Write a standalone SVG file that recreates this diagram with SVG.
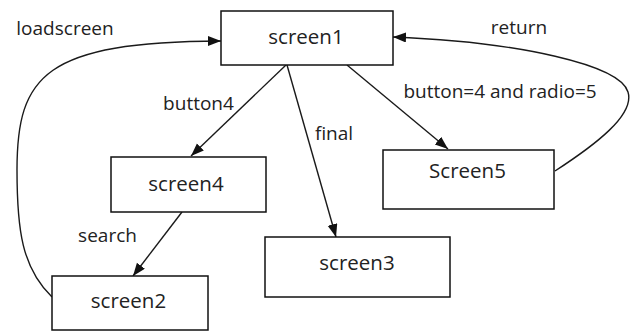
<svg xmlns="http://www.w3.org/2000/svg" width="630" height="333" viewBox="0 0 630 333">
<style>
.node rect{fill:#fff;stroke:#111;stroke-width:1.5}
.node text{font-family:"Open Sans","Noto Sans",sans-serif;font-size:20.5px;fill:#222;text-anchor:middle}
.lbl{font-family:"Open Sans","Noto Sans",sans-serif;font-size:19px;fill:#222;text-anchor:middle}
.edge{fill:none;stroke:#1a1a1a;stroke-width:1.4;marker-end:url(#arr)}
</style>
<defs>
<marker id="arr" markerUnits="userSpaceOnUse" markerWidth="14" markerHeight="11" refX="13" refY="5" orient="auto">
<path d="M0,0 L13,5 L0,10 z" fill="#111"/>
</marker>
</defs>
<rect width="630" height="333" fill="#fff"/>
<g id="connectors">
<path class="edge" d="M286,65 L191,156"/>
<path class="edge" d="M287,65 L336,237"/>
<path class="edge" d="M347,65 L448,149"/>
<path class="edge" d="M182,212 L133,276"/>
<path class="edge" d="M52,297 C22,268 17,230 17,170 C17,75 45,42 221,41"/>
<path class="edge" d="M555,171 C595,145 635,115 628,92 C620,65 520,42 393,37"/>
<text class="lbl" x="65" y="35">loadscreen</text>
<text class="lbl" x="519" y="34">return</text>
<text class="lbl" x="198.5" y="110">button4</text>
<text class="lbl" x="334" y="140">final</text>
<text class="lbl" x="500" y="98">button=4 and radio=5</text>
<text class="lbl" x="107.5" y="242">search</text>
</g>
<g id="screen1" class="node"><rect x="221" y="11" width="172" height="54"/><text x="306" y="44">screen1</text></g>
<g id="screen4" class="node"><rect x="111" y="157" width="155" height="55"/><text x="186" y="191">screen4</text></g>
<g id="screen2" class="node"><rect x="52" y="276" width="156" height="54"/><text x="128.5" y="308">screen2</text></g>
<g id="screen3" class="node"><rect x="265" y="237" width="185" height="60"/><text x="357" y="270">screen3</text></g>
<g id="screen5" class="node"><rect x="383" y="150" width="171" height="59"/><text x="467.5" y="177.5">Screen5</text></g>
</svg>
